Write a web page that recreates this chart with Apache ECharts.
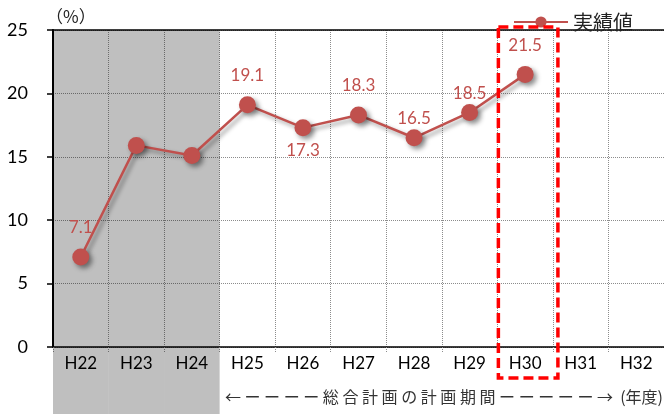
<!DOCTYPE html>
<html>
<head>
<meta charset="utf-8">
<script src="https://cdn.jsdelivr.net/npm/echarts@6/dist/echarts.min.js"></script>
<style>
  html, body { margin: 0; padding: 0; background: #fff; }
  #chart { width: 664px; height: 414px; }
</style>
</head>
<body>
<div id="chart"></div>
<script>
// Fiscal years (Heisei era)
const years = ['H22', 'H23', 'H24', 'H25', 'H26', 'H27', 'H28', 'H29', 'H30', 'H31', 'H32'];
// Actual results (%)
const actual = [7.1, 15.9, 15.1, 19.1, 17.3, 18.3, 16.5, 18.5, 21.5, null, null];
// Years before the comprehensive plan period (shaded)
const preplanYears = ['H22', 'H23', 'H24'];
// Latest year, outlined
const currentYear = ['H30'];
// Y axis range
const yMin = 0, yMax = 25, yStep = 5;

const seriesName = '実績値';
const periodText = '← ー ー ー ー 総 合 計 画 の 計 画 期 間 ー ー ー ー ー →  (年度)';

const RED = '#C0504D';
const GRID = '#8c8c8c';
const latin = 'Lato, "Noto Sans CJK JP", sans-serif';
const cjk = '"Noto Sans CJK JP", sans-serif';

// label placement: most values sit above the marker, some closer or below
const labelHidden = { 1: true, 2: true };
const labelBelow = { 4: true };
const labelClose = { 6: true, 7: true };

const lineData = actual.map((v, i) => ({
  value: v,
  label: {
    show: !labelHidden[i],
    position: labelBelow[i] ? 'bottom' : 'top',
    distance: labelBelow[i] ? 6 : (labelClose[i] ? 2 : 12)
  }
}));

const chart = echarts.init(document.getElementById('chart'), null, { renderer: 'canvas' });

chart.setOption({
  animation: false,
  backgroundColor: '#fff',
  grid: { left: 53, right: 0, top: 30, bottom: 67, containLabel: false },
  legend: {
    data: [seriesName],
    left: 508,
    top: 7,
    itemWidth: 54,
    itemHeight: 14,
    itemGap: 4,
    textStyle: { fontFamily: cjk, fontSize: 20, color: '#222' },
    selectedMode: false
  },
  xAxis: [{
    type: 'category',
    data: years,
    boundaryGap: true,
    axisLine: { lineStyle: { color: '#000', width: 1.5 } },
    axisTick: { show: true, length: 6, lineStyle: { color: GRID, type: 'dotted' } },
    axisLabel: { fontFamily: latin, fontSize: 17, color: '#000', margin: 8 },
    splitLine: { show: true, lineStyle: { color: GRID, type: 'dotted', width: 1 } }
  }, {
    type: 'category',
    data: years,
    position: 'top',
    axisLine: { lineStyle: { color: '#000', width: 1.5 } },
    axisTick: { show: false },
    axisLabel: { show: false },
    splitLine: { show: false }
  }],
  yAxis: {
    type: 'value',
    min: yMin,
    max: yMax,
    interval: yStep,
    name: '（%）',
    nameLocation: 'end',
    nameGap: 5,
    nameTextStyle: { fontFamily: cjk, fontSize: 17, color: '#222', align: 'left', padding: [0, 0, 0, -7] },
    axisLine: { show: true, lineStyle: { color: '#000', width: 2 } },
    axisTick: { show: true, length: 6, lineStyle: { color: '#000', width: 1.5 } },
    axisLabel: { fontFamily: latin, fontSize: 18, color: '#000', margin: 25 },
    splitLine: { show: true, lineStyle: { color: GRID, type: 'dotted', width: 1 } }
  },
  graphic: [{
    type: 'text',
    right: 1,
    top: 389,
    style: { text: periodText, fontFamily: cjk, fontSize: 16, fill: '#333' }
  }],
  series: [{
    // translucent shade over the years before the plan period, so grid lines and labels stay visible
    type: 'custom',
    z: 1,
    clip: false,
    silent: true,
    data: preplanYears.map(y => [y]),
    encode: { x: 0 },
    renderItem: function (params, api) {
      const idx = api.value(0);
      const w = api.size([1, 0])[0];
      const top = api.coord([idx, yMax]);
      return {
        type: 'rect',
        shape: { x: top[0] - w / 2, y: top[1], width: w, height: api.getHeight() - top[1] },
        style: { fill: 'rgba(0,0,0,0.25)' }
      };
    }
  }, {
    name: seriesName,
    type: 'line',
    data: lineData,
    z: 3,
    symbol: 'circle',
    symbolSize: 17,
    lineStyle: {
      color: RED, width: 2.5,
      shadowBlur: 4, shadowColor: 'rgba(0,0,0,0.4)', shadowOffsetX: 3, shadowOffsetY: 3
    },
    itemStyle: {
      color: RED,
      shadowBlur: 5, shadowColor: 'rgba(0,0,0,0.45)', shadowOffsetX: 3, shadowOffsetY: 3
    },
    label: {
      show: true,
      fontFamily: latin,
      fontSize: 17,
      color: RED,
      formatter: p => p.value.toFixed(1)
    },
    emphasis: { disabled: true }
  }, {
    // dashed outline around the latest year
    type: 'custom',
    z: 4,
    clip: false,
    silent: true,
    data: currentYear.map(y => [y]),
    encode: { x: 0 },
    renderItem: function (params, api) {
      const idx = api.value(0);
      const w = api.size([1, 0])[0];
      const top = api.coord([idx, yMax]);
      const bottom = api.coord([idx, yMin]);
      return {
        type: 'rect',
        shape: { x: top[0] - w / 2 + 1, y: top[1] - 3, width: w + 4, height: bottom[1] - top[1] + 34 },
        style: { fill: 'none', stroke: '#FF0000', lineWidth: 3.5, lineDash: [10, 5] }
      };
    }
  }]
});
</script>
</body>
</html>
